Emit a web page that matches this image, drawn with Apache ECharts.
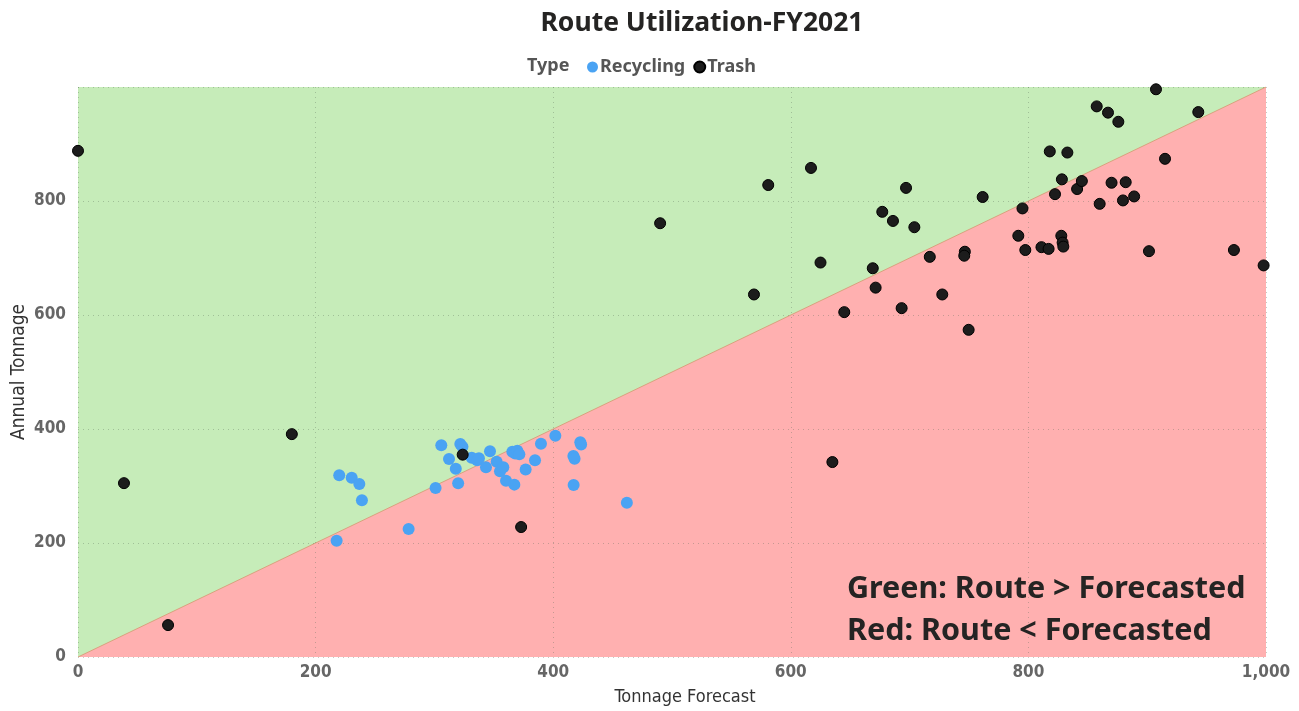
<!DOCTYPE html>
<html>
<head>
<meta charset="utf-8">
<script src="https://cdn.jsdelivr.net/npm/echarts@6/dist/echarts.min.js"></script>
<style>
  html, body { margin: 0; padding: 0; background: #fff; }
  #main { width: 1299px; height: 711px; }
</style>
</head>
<body>
<div id="main"></div>
<script>
// values
var recyclingX = [219.9, 230.4, 236.8, 239, 217.7, 278.3, 301, 305.8, 312.3, 318, 320, 321.8, 323.6, 331.4, 336, 337.5,
  343.4, 346.8, 352.4, 355.2, 358, 360.3, 365.6, 367.3, 368, 369.8, 371.5, 376.8, 384.7, 389.7, 401.8, 417, 418, 422.8, 423.5, 417.2, 462];
var recyclingY = [319, 314.6, 303.5, 275, 204, 224.6, 296.5, 371.4, 347.4, 330.4, 305, 373.7, 369, 349.7, 345, 348.5,
  332.7, 361, 342.6, 326, 332.8, 309.4, 360, 302.4, 357, 362, 355.6, 329, 345, 374, 388.3, 352.6, 348, 376.6, 373, 301.8, 270.7];

var trashX = [0, 38.7, 75.8, 180, 323.8, 373, 490, 569, 581, 617, 625, 635, 645, 669, 671.4, 677, 686, 693.3, 697, 704,
  717, 727.5, 746.5, 746, 749.7, 761.5, 791.5, 795, 797.4, 811, 817, 818, 822.4, 827.7, 828.8, 829.4, 828.2, 832.8, 841,
  845, 857.5, 860, 867, 870, 875.7, 879.6, 881.9, 889, 901.5, 907.4, 915, 943, 973, 998];
var trashY = [888, 305, 56, 391, 355, 228, 761, 636, 828, 858, 692, 342, 605, 682, 648, 781, 765, 612, 823, 754,
  702, 636, 711, 704, 574, 807, 739, 787, 714, 719, 716, 887, 812, 739, 727, 720, 838, 885, 821,
  835, 966, 795, 955, 832, 939, 801, 833, 808, 712, 996, 874, 956, 714, 687];

var axisMax = 1000;
var axisTicks = [0, 200, 400, 600, 800, 1000];
// break-even line: route tonnage == forecast
var breakEven = [[0, 0], [axisMax, axisMax]];
var ceiling = [[0, axisMax], [axisMax, axisMax]];

function pairs(xs, ys) {
  var out = [];
  for (var i = 0; i < xs.length; i++) out.push([xs[i], ys[i]]);
  return out;
}

var chart = echarts.init(document.getElementById('main'));
var condFont = '"DejaVu Sans Condensed", "Liberation Sans Narrow", sans-serif';
var noto = '"Noto Sans", sans-serif';

chart.setOption({
  animation: false,
  title: {
    text: 'Route Utilization-FY2021',
    left: 697,
    textAlign: 'center',
    top: 5,
    textStyle: { fontFamily: noto, fontWeight: 'bold', fontSize: 26.5, color: '#252423' }
  },
  legend: {
    left: 582,
    top: 53,
    icon: 'circle',
    itemWidth: 11,
    itemHeight: 11,
    itemGap: 8,
    textStyle: { fontFamily: noto, fontWeight: 'bold', fontSize: 18, color: '#555', padding: [0, 0, 0, -3] },
    data: ['Recycling', 'Trash']
  },
  graphic: [
    { type: 'text', z: 100, style: { x: 527, y: 66, verticalAlign: 'middle', text: 'Type', font: 'bold 18px "Noto Sans", sans-serif', fill: '#555' } },
    { type: 'text', z: 100, style: { x: 847, y: 589, verticalAlign: 'middle', text: 'Green: Route > Forecasted', font: 'bold 30.5px "Noto Sans", sans-serif', fill: '#252423' } },
    { type: 'text', z: 100, style: { x: 847, y: 631, verticalAlign: 'middle', text: 'Red: Route < Forecasted', font: 'bold 30.5px "Noto Sans", sans-serif', fill: '#252423' } }
  ],
  grid: { left: 78, right: 33, top: 87, bottom: 54, containLabel: false, outerBoundsMode: 'none' },
  xAxis: {
    type: 'value',
    min: axisTicks[0],
    max: axisMax,
    interval: 200,
    name: 'Tonnage Forecast',
    nameLocation: 'middle',
    nameGap: 31,
    nameMoveOverlap: false,
    nameTextStyle: { fontFamily: condFont, fontSize: 18, color: '#333', padding: [0, 0, 0, 26] },
    axisLine: { show: false },
    axisTick: { show: false },
    axisLabel: {
      margin: 7,
      fontFamily: condFont, fontWeight: 'bold', fontSize: 17, color: '#666',
      formatter: function (v) { return v.toLocaleString('en-US'); }
    },
    splitLine: { show: true, lineStyle: { type: [1, 4], color: 'rgba(90,110,90,0.35)' } }
  },
  yAxis: {
    type: 'value',
    min: axisTicks[0],
    max: axisMax,
    interval: 200,
    name: 'Annual Tonnage',
    nameLocation: 'middle',
    nameGap: 49,
    nameMoveOverlap: false,
    nameTextStyle: { fontFamily: condFont, fontSize: 19, color: '#333' },
    axisLine: { show: false },
    axisTick: { show: false },
    axisLabel: { margin: 12, showMaxLabel: false, fontFamily: condFont, fontWeight: 'bold', fontSize: 17, color: '#666' },
    splitLine: { show: true, lineStyle: { type: [1, 4], color: 'rgba(90,110,90,0.35)' } }
  },
  series: [
    {
      name: 'above',
      type: 'line',
      z: -2,
      silent: true,
      symbol: 'none',
      lineStyle: { width: 0 },
      areaStyle: { color: '#c6ecb9', opacity: 1 },
      data: ceiling
    },
    {
      name: 'below',
      type: 'line',
      z: -1,
      silent: true,
      symbol: 'none',
      lineStyle: { width: 1, color: '#d8a27e' },
      areaStyle: { color: '#ffb0b0', opacity: 1 },
      data: breakEven
    },
    {
      name: 'Recycling',
      type: 'scatter',
      symbolSize: 12,
      itemStyle: { color: '#4aa3f3', opacity: 1 },
      data: pairs(recyclingX, recyclingY)
    },
    {
      name: 'Trash',
      type: 'scatter',
      symbolSize: 11,
      itemStyle: { color: '#1c1c1c', borderColor: '#000', borderWidth: 1, opacity: 1 },
      data: pairs(trashX, trashY)
    }
  ]
});
</script>
</body>
</html>
